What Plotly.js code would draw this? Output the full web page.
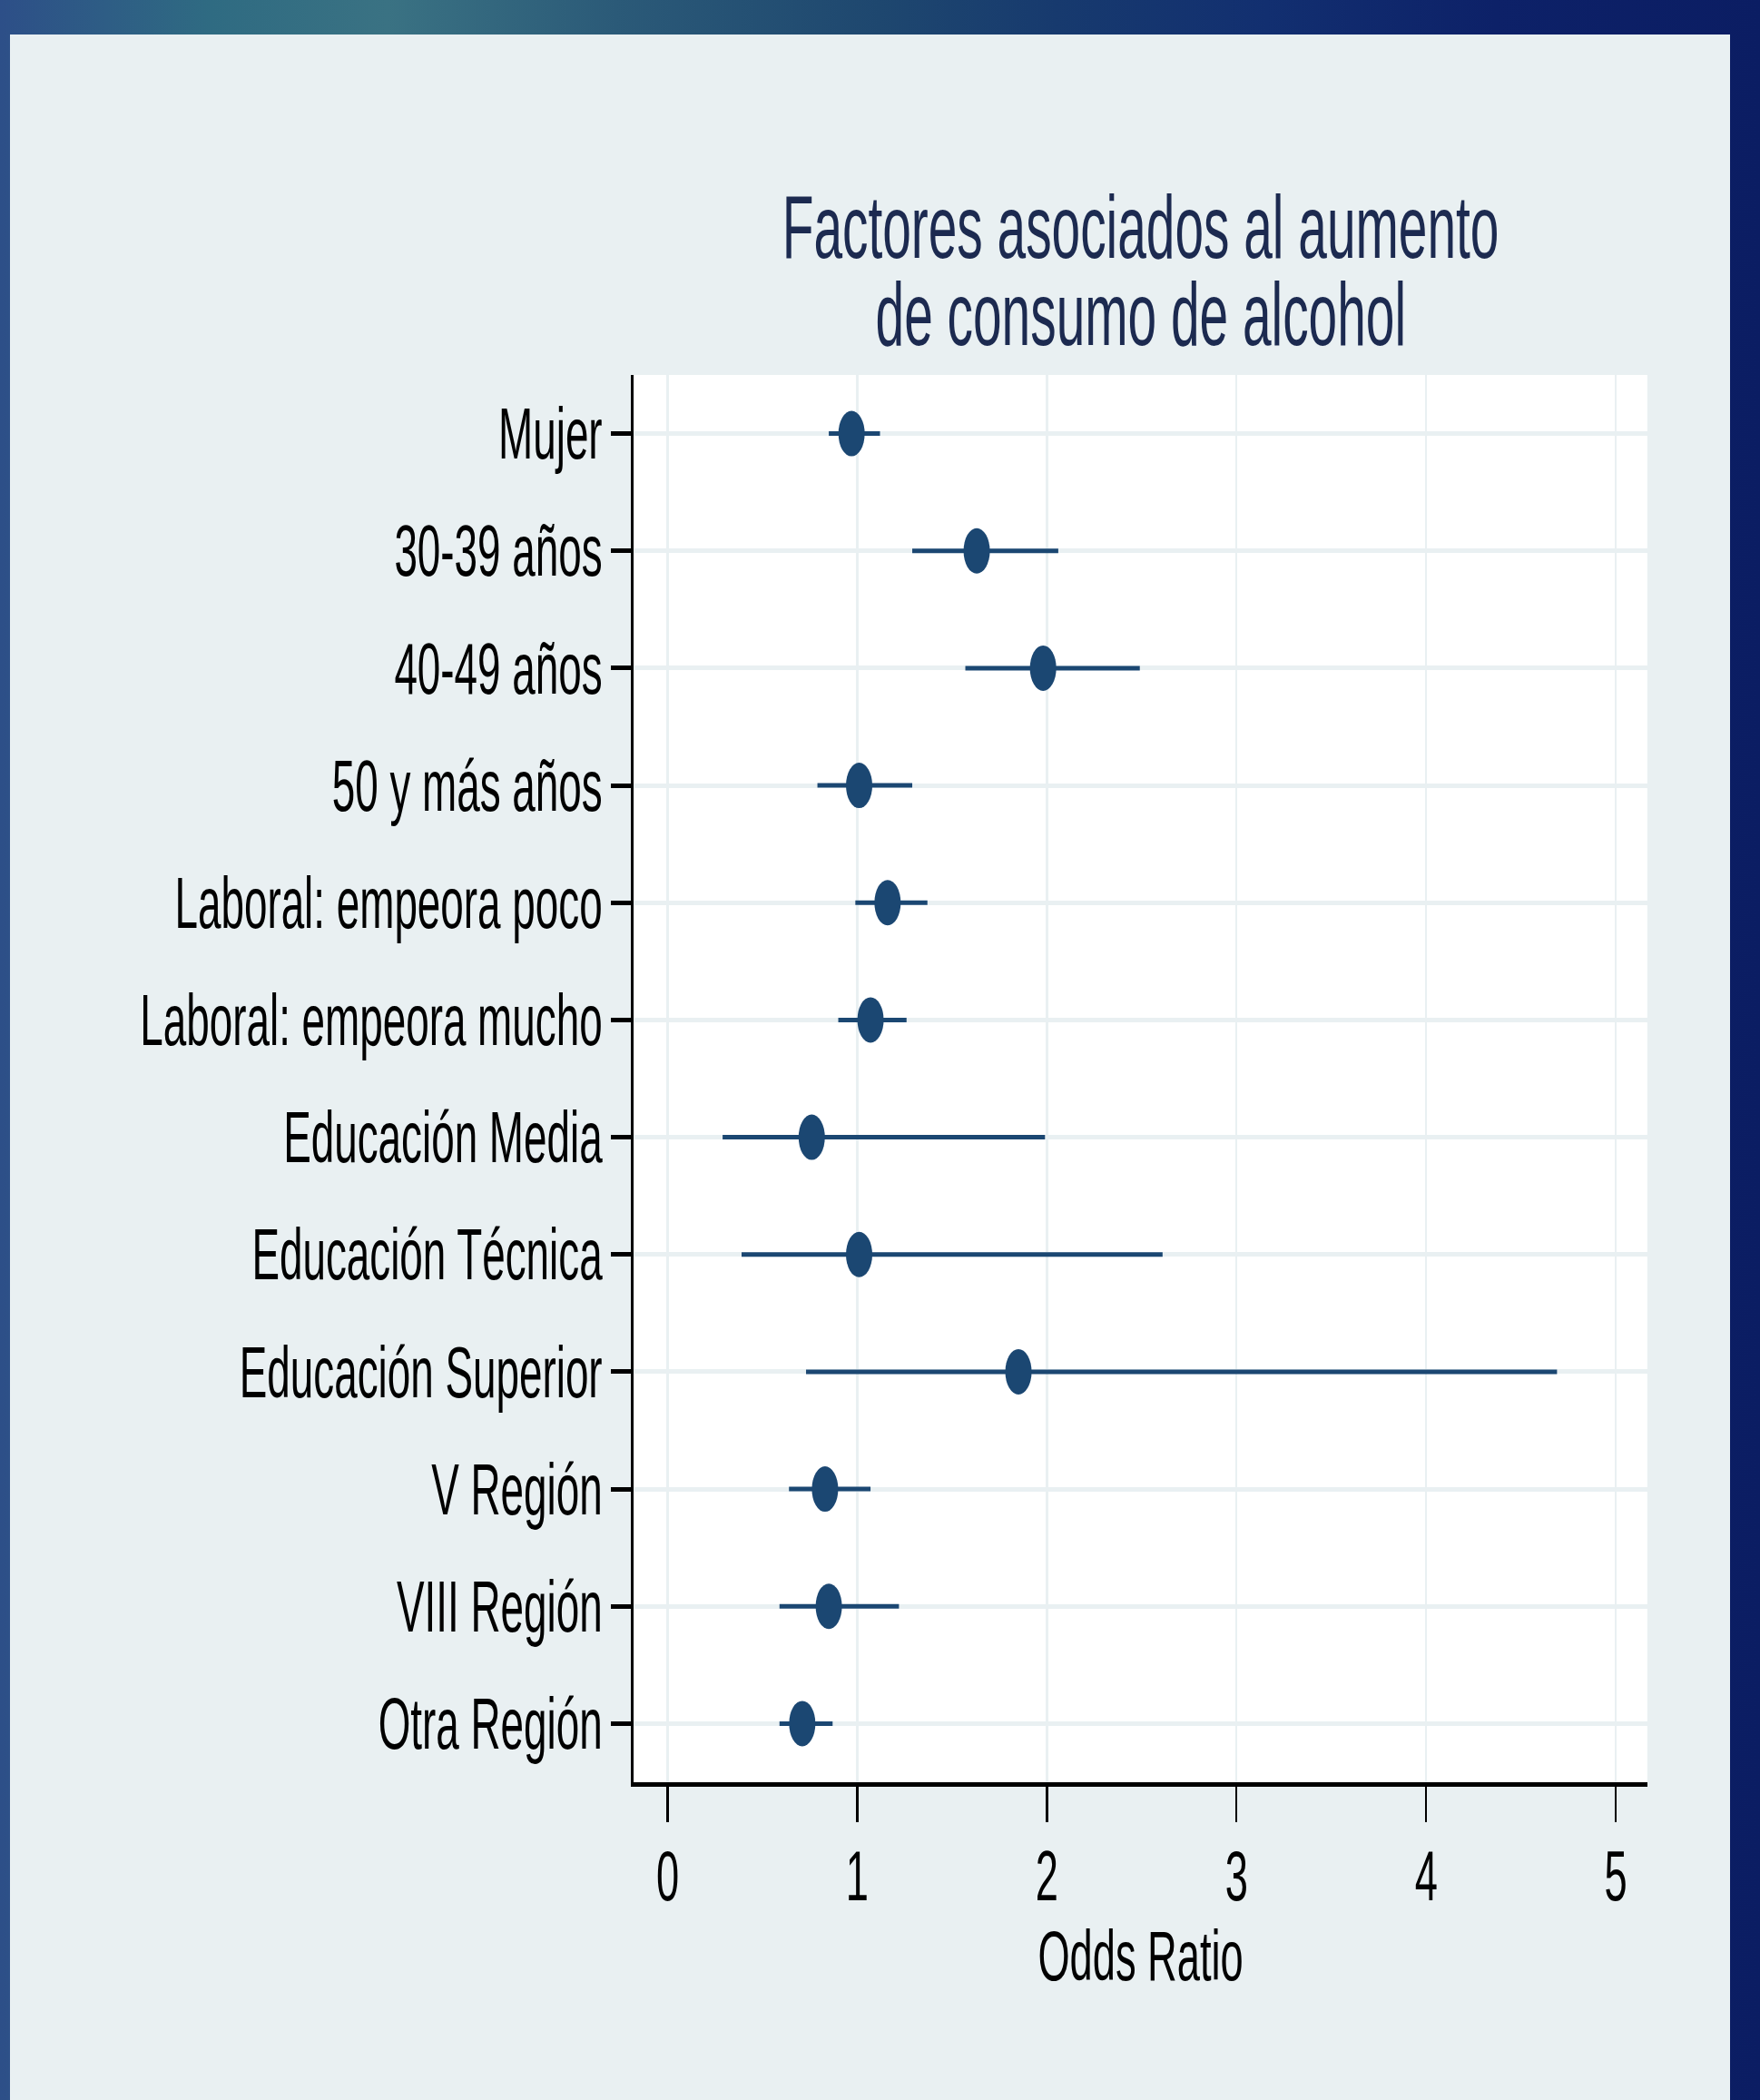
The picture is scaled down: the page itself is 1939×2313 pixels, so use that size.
<!DOCTYPE html>
<html>
<head>
<meta charset="utf-8">
<script src="https://cdn.plot.ly/plotly-3.0.1.min.js"></script>
<style>
  html, body { margin:0; padding:0; width:1939px; height:2313px; overflow:hidden; }
  body {
    position: relative;
    background:
      linear-gradient(90deg, #2d4f88 0%, #2f6b82 12%, #3a7283 22%, #2b5a78 35%, #1e476f 50%, #173a6e 60%, #122f70 72%, #0d2168 85%, #0b1d63 100%);
  }
  #panel {
    position:absolute; left:11px; top:38px; width:1895px; height:2275px;
    background:#e9f0f2;
  }
  #chart {
    position:absolute; left:0; top:0; width:3343px; height:2313px;
    transform: scaleX(0.58); transform-origin: 0 0;
  }
</style>
</head>
<body>
<div id="panel"></div>
<div id="chart"></div>
<script>
// Data
const categories = [
  "Mujer", "30-39 años", "40-49 años", "50 y más años",
  "Laboral: empeora poco", "Laboral: empeora mucho",
  "Educación Media", "Educación Técnica", "Educación Superior",
  "V Región", "VIII Región", "Otra Región"
];
const oddsRatio = [0.97, 1.63, 1.98, 1.01, 1.16, 1.07, 0.76, 1.01, 1.85, 0.83, 0.85, 0.71];
const ciLow     = [0.85, 1.29, 1.57, 0.79, 0.99, 0.90, 0.29, 0.39, 0.73, 0.64, 0.59, 0.59];
const ciHigh    = [1.12, 2.06, 2.49, 1.29, 1.37, 1.26, 1.99, 2.61, 4.69, 1.07, 1.22, 0.87];
const xTicks    = [0, 1, 2, 3, 4, 5];
const titleLine1 = "Factores asociados al aumento";
const titleLine2 = "de consumo de alcohol";
const xTitle = "Odds Ratio";

const FONT = "Liberation Sans, Arial, sans-serif";
const NAVY = "#1b4772";
const GRID = "#e9f0f2";

const trace = {
  type: "scatter",
  mode: "markers",
  x: oddsRatio,
  y: categories,
  marker: { color: NAVY, size: 50, line: { width: 0 } },
  error_x: {
    type: "data",
    symmetric: false,
    array: ciHigh.map((h, i) => h - oddsRatio[i]),
    arrayminus: ciLow.map((l, i) => oddsRatio[i] - l),
    color: NAVY,
    thickness: 5,
    width: 0
  },
  hoverinfo: "x+y"
};

const layout = {
  width: 3343,
  height: 2313,
  margin: { l: 1204, r: 214, t: 413, b: 350, pad: 0 },
  paper_bgcolor: "rgba(0,0,0,0)",
  plot_bgcolor: "#ffffff",
  showlegend: false,
  font: { family: FONT, color: "#000000", size: 77 },
  title: {
    text: titleLine1,
    font: { family: FONT, size: 98, color: "#1c2a50" },
    xref: "paper", x: 0.5, xanchor: "center",
    yref: "container", y: 1 - 284 / 2313, yanchor: "bottom"
  },
  annotations: [{
    text: titleLine2,
    xref: "paper", x: 0.5, xanchor: "center",
    yref: "paper", y: (1963 - 403) / 1550, yanchor: "bottom",
    showarrow: false,
    font: { family: FONT, size: 98, color: "#1c2a50" }
  }],
  xaxis: {
    range: [-0.178, 5.166],
    tickmode: "array",
    tickvals: xTicks,
    ticktext: xTicks.map(String),
    ticks: "outside",
    ticklen: 39,
    tickwidth: 4,
    tickcolor: "#000000",
    ticklabelstandoff: -8,
    tickfont: { family: FONT, size: 78, color: "#000000" },
    showline: true,
    linecolor: "#000000",
    linewidth: 5,
    showgrid: true,
    gridcolor: GRID,
    gridwidth: 4,
    zeroline: false,
    title: { text: xTitle, font: { family: FONT, size: 78, color: "#000000" }, standoff: 0 },
    automargin: false
  },
  yaxis: {
    type: "category",
    categoryorder: "array",
    categoryarray: categories,
    range: [11.5, -0.5],
    ticks: "outside",
    ticklen: 39,
    tickwidth: 5,
    tickcolor: "#000000",
    tickfont: { family: FONT, size: 79, color: "#000000" },
    showline: true,
    linecolor: "#000000",
    linewidth: 5,
    showgrid: true,
    gridcolor: GRID,
    gridwidth: 5,
    zeroline: false,
    automargin: false
  }
};

Plotly.newPlot("chart", [trace], layout, { displayModeBar: false, staticPlot: true });
</script>
</body>
</html>
